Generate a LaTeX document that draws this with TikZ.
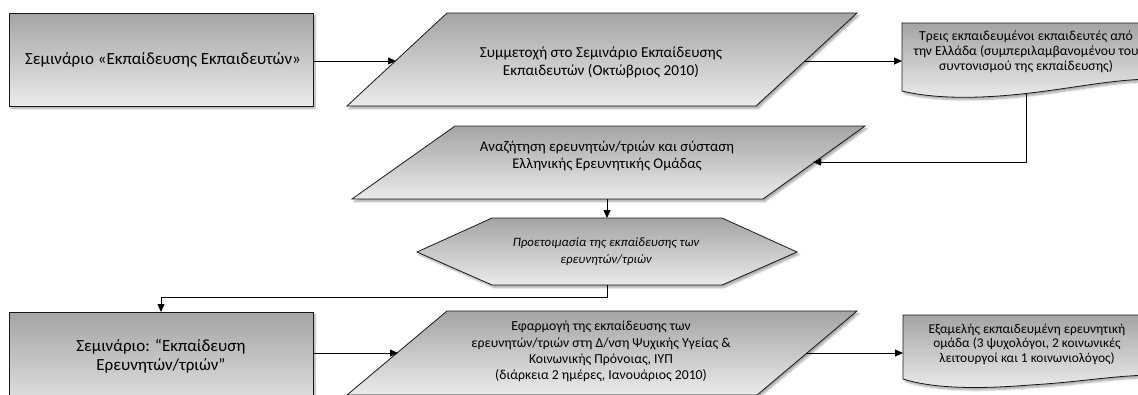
\documentclass[tikz,border=0pt]{standalone}
\usepackage{fontspec}
\setmainfont{Carlito}
\usetikzlibrary{arrows.meta,shadows.blur}
\definecolor{gtop}{HTML}{A4A4A4}
\definecolor{gbot}{HTML}{EBEBEB}
\begin{document}
\begin{tikzpicture}[x=1pt,y=-1pt,
  shapebox/.style={draw=black!90,line width=0.8pt,top color=gtop,bottom color=gbot,
    blur shadow={shadow xshift=2pt,shadow yshift=-2.5pt,shadow blur steps=6,shadow opacity=35}},
  conn/.style={draw=black,line width=0.8pt},
  arr/.style={conn,-{Triangle[length=8pt,width=7pt]}},
  lbl/.style={align=center,inner sep=0pt}]
\useasboundingbox (0,0) rectangle (1138,394);
\clip (0,0) rectangle (1138,394);

% --- shapes ---
\path[shapebox] (9,13) rectangle (313,106);
\path[shapebox] (347,106) -- (447,13) -- (857,13) -- (756,106) -- cycle;
\path[shapebox] (902,23) -- (1150,23) -- (1150,79)
  .. controls (1110,80) and (1080,87) .. (1030,93)
  .. controls (980,99) and (935,99) .. (902,91) -- cycle;
\path[shapebox] (352,199) -- (455,126) -- (865,126) -- (763,199) -- cycle;
\path[shapebox] (417,252) -- (492,218) -- (722,218) -- (797,252) -- (722,285) -- (492,285) -- cycle;
\path[shapebox] (9,312) rectangle (313,420);
\path[shapebox] (347,395) -- (447,311) -- (857,311) -- (757,395) -- cycle;
\path[shapebox] (903,315) -- (1150,315) -- (1150,375)
  .. controls (1110,376) and (1080,382) .. (1030,385)
  .. controls (980,389) and (935,389) .. (903,379) -- cycle;

% --- texts ---
\node[lbl,font=\fontsize{17}{20}\selectfont] (t1) at (163,60) {Σεμινάριο «Εκπαίδευσης Εκπαιδευτών»};
\node[lbl,font=\fontsize{15.2}{18}\selectfont] (t2) at (601,62) {Συμμετοχή στο Σεμινάριο Εκπαίδευσης\\Εκπαιδευτών (Οκτώβριος 2010)};
\node[lbl,font=\fontsize{13.7}{15}\selectfont] (t3) at (1026,52) {Τρεις εκπαιδευμένοι εκπαιδευτές από\\την Ελλάδα (συμπεριλαμβανομένου του\\συντονισμού της εκπαίδευσης)};
\node[lbl,font=\fontsize{14.8}{17}\selectfont] (t4) at (607,155.5) {Αναζήτηση ερευνητών/τριών και σύσταση\\Ελληνικής Ερευνητικής Ομάδας};
\node[lbl,font=\fontsize{12.8}{17}\selectfont\itshape] (t5) at (606,252) {Προετοιμασία της εκπαίδευσης των\\ερευνητών/τριών};
\node[lbl,font=\fontsize{17}{18.5}\selectfont] (t6) at (161,356) {Σεμινάριο: “Εκπαίδευση\\Ερευνητών/τριών”};
\node[lbl,font=\fontsize{13.7}{16.3}\selectfont] (t7) at (601,351.5) {Εφαρμογή της εκπαίδευσης των\\ερευνητών/τριών στη Δ/νση Ψυχικής Υγείας \&\\Κοινωνικής Πρόνοιας, ΙΥΠ\\(διάρκεια 2 ημέρες, Ιανουάριος 2010)};
\node[lbl,font=\fontsize{13.4}{14.5}\selectfont] (t8) at (1027,344) {Εξαμελής εκπαιδευμένη ερευνητική\\ομάδα (3 ψυχολόγοι, 2 κοινωνικές\\λειτουργοί και 1 κοινωνιολόγος)};

% --- connector end points ---
\coordinate (r1out) at (313,61);
\coordinate (p1in) at (396,61);
\coordinate (p1out) at (805,61);
\coordinate (d1in) at (902,61);
\coordinate (d1out) at (1026,94);
\coordinate (bendA) at (1026,162);
\coordinate (p2in) at (813,162);
\coordinate (p2out) at (607,199);
\coordinate (hxin) at (607,218);
\coordinate (hxout) at (607,285);
\coordinate (bendB) at (607,297);
\coordinate (bendC) at (161,297);
\coordinate (r2in) at (161,312);
\coordinate (r2out) at (313,353);
\coordinate (p3in) at (398,353);
\coordinate (p3out) at (806,353);
\coordinate (d2in) at (903,353);

% --- connectors ---
\draw[arr] (r1out) -- (p1in);
\draw[arr] (p1out) -- (d1in);
\draw[arr] (d1out) -- (bendA) -- (p2in);
\draw[arr] (p2out) -- (hxin);
\draw[arr] (hxout) -- (bendB) -- (bendC) -- (r2in);
\draw[arr] (r2out) -- (p3in);
\draw[arr] (p3out) -- (d2in);
\end{tikzpicture}
\end{document}
